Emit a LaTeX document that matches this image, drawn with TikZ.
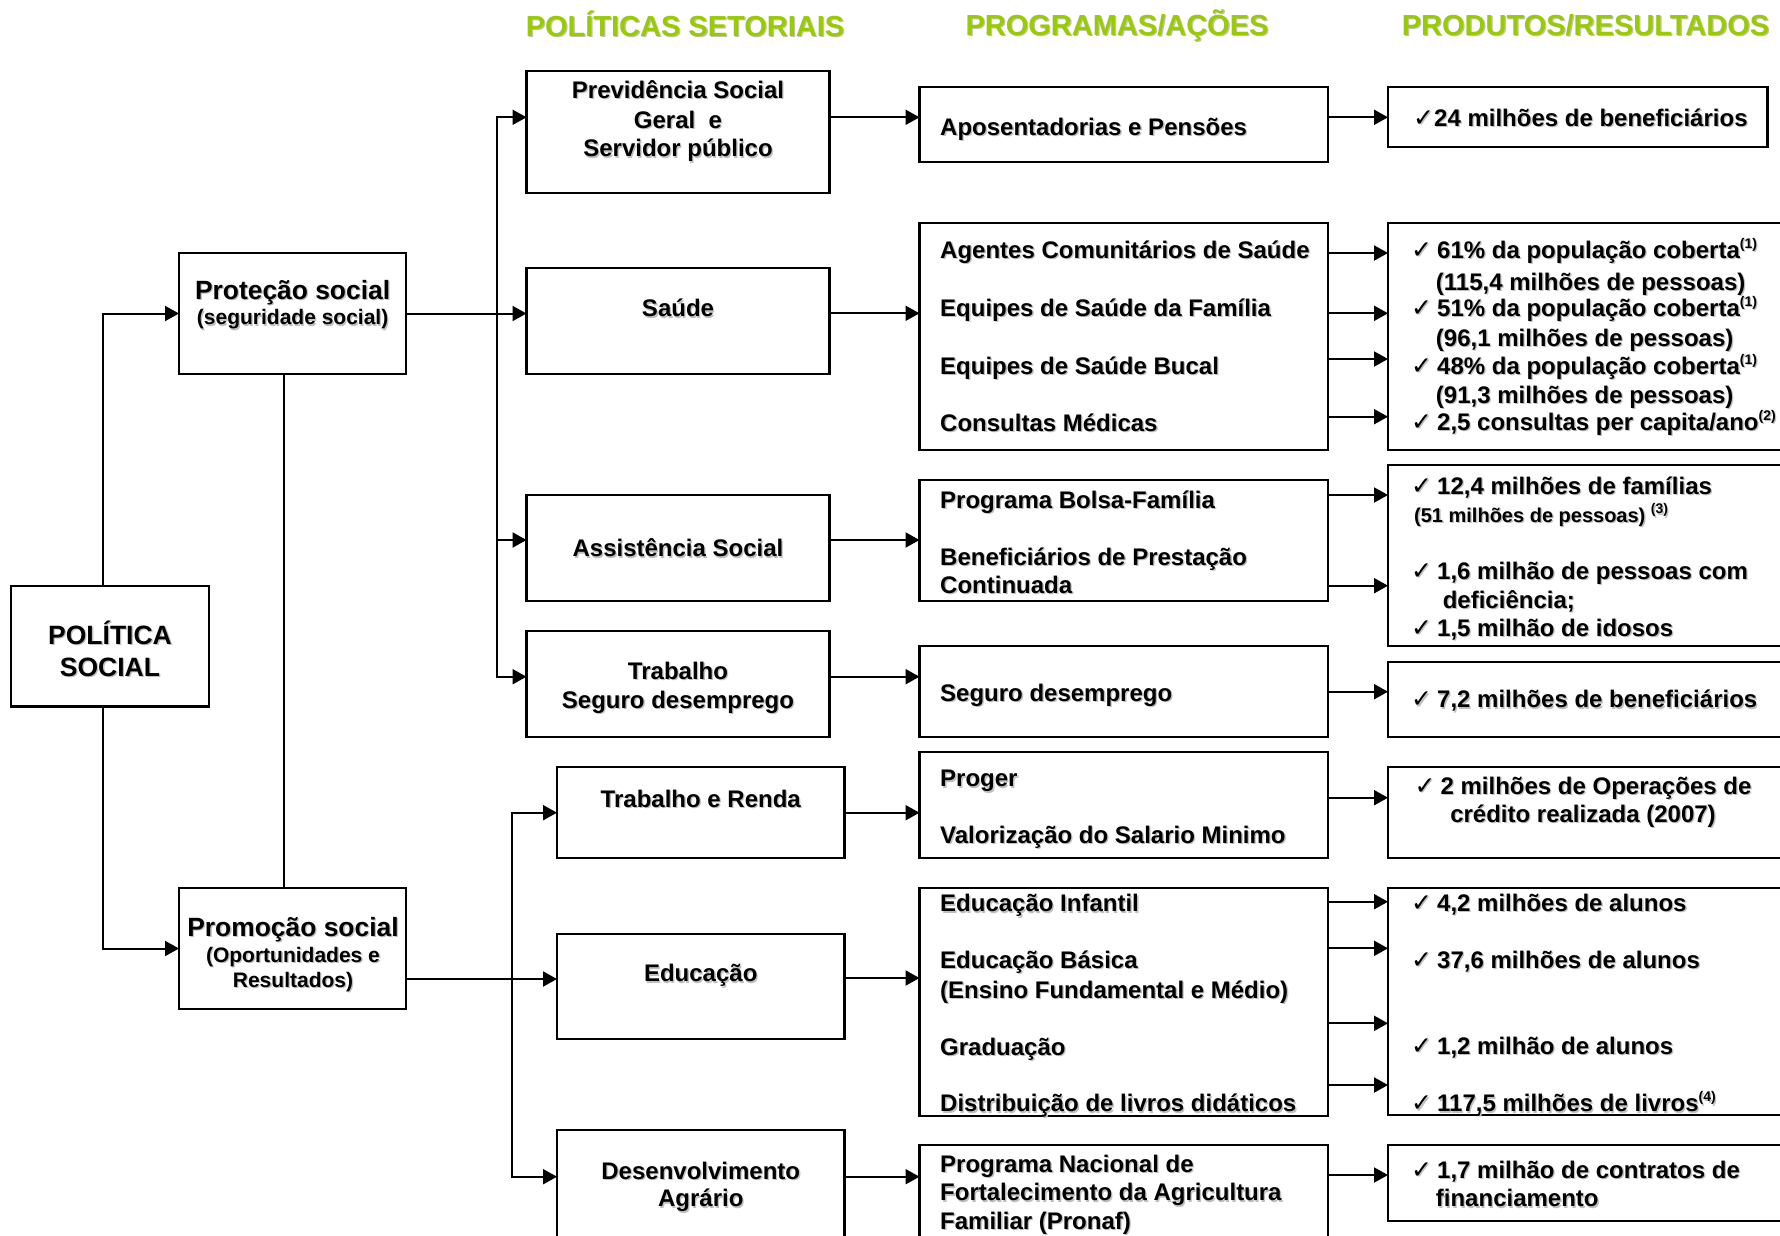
\documentclass[tikz,border=0pt]{standalone}
\usepackage{fontspec}
\setmainfont{Liberation Sans}
\newfontfamily\dv{DejaVu Sans}
\usetikzlibrary{arrows.meta}
\definecolor{lime}{RGB}{153,204,0}
\newcommand\sh[1]{\leavevmode\rlap{\hspace{1.3pt}\raisebox{-1.3pt}{\color{black!25}#1}}#1}
\newcommand\ck{{\dv\mdseries\fontsize{25}{25}\selectfont ✓}}
\newcommand\cks{\ck\hspace{5pt}}
\newcommand\su[1]{\raisebox{0.42em}{\fontsize{14}{14}\selectfont #1}}
\newcommand\bx[5]{\node[bx, minimum width={#4pt-#2pt}, minimum height={#5pt-#3pt}] (#1) at ({(#2+#4)/2},{(#3+#5)/2}) {};}
\tikzset{
  bx/.style={draw, line width=2.2pt, inner sep=0pt, outer sep=0pt},
  tx/.style={inner sep=0pt, text depth=0pt, text height={0.716*#1pt}, font={\fontsize{#1}{#1}\selectfont\bfseries}},
  tx/.default=24,
  conn/.style={line width=2pt, -{Triangle[length=14pt,width=15pt]}},
  ln/.style={line width=2pt},
  hd/.style={tx=29, text=lime}
}
\begin{document}
\begin{tikzpicture}[x=1pt,y=-1pt]
\clip (0,0) rectangle (1780,1235);
\fill[white] (0,0) rectangle (1780,1235);

% headers
\node[hd] (h1) at (685,26) {\sh{POLÍTICAS SETORIAIS}};
\node[hd] (h2) at (1117,25) {\sh{PROGRAMAS/AÇÕES}};
\node[hd] (h3) at (1585.5,25) {\sh{PRODUTOS/RESULTADOS}};

% boxes
\bx{ps}{11}{586}{209}{706.5}
\bx{prot}{179}{253}{406}{374}
\bx{prom}{179}{888}{406}{1009}
\bx{prev}{526.5}{71}{829.5}{192.7}
\bx{saude}{526.5}{267.7}{829.5}{374}
\bx{assist}{526.5}{494.7}{829.5}{601}
\bx{trab}{526.5}{631}{829.5}{737.3}
\bx{renda}{557}{767.3}{844.5}{858}
\bx{edu}{557}{933.7}{844.5}{1039.3}
\bx{desen}{557}{1129.7}{844.5}{1250}
\bx{apos}{919.5}{86.7}{1328}{162.3}
\bx{saudep}{919.5}{222.7}{1328}{450}
\bx{assistp}{919.5}{480}{1328}{601}
\bx{segp}{919.5}{646}{1328}{736.7}
\bx{proger}{919.5}{752.3}{1328}{857.7}
\bx{edup}{919.5}{888.3}{1328}{1116}
\bx{pronaf}{919.5}{1145}{1328}{1250}
\bx{r24}{1388}{86.7}{1767.5}{147.3}
\bx{rsaude}{1388}{222.7}{1800}{450}
\bx{rassist}{1388}{465}{1800}{646}
\bx{rseg}{1388}{661.7}{1800}{737.3}
\bx{rproger}{1388}{767.3}{1800}{857.7}
\bx{redu}{1388}{888.3}{1800}{1115}
\bx{rpronaf}{1388}{1145}{1800}{1220.7}

% left texts
\node[tx=26.5] (ps1) at (110,635) {\sh{POLÍTICA}};
\node[tx=26.5] (ps2) at (110,666.7) {\sh{SOCIAL}};
\node[tx=26.4] (pr1) at (292.6,290) {\sh{Proteção social}};
\node[tx=21] (pr2) at (292.6,317.3) {\sh{(seguridade social)}};
\node[tx=26.4] (pm1) at (293,926.7) {\sh{Promoção social}};
\node[tx=21] (pm2) at (293,955) {\sh{(Oportunidades e}};
\node[tx=21] (pm3) at (293,980) {\sh{Resultados)}};

% policy texts
\node[tx] (p1) at (678,90) {\sh{Previdência Social}};
\node[tx] (p2) at (678,120) {\sh{Geral\ \ e}};
\node[tx] (p3) at (678,148.3) {\sh{Servidor público}};
\node[tx] (p4) at (678,308.3) {\sh{Saúde}};
\node[tx] (p5) at (678,548.3) {\sh{Assistência Social}};
\node[tx] (p6) at (678,670.7) {\sh{Trabalho}};
\node[tx] (p7) at (678,700) {\sh{Seguro desemprego}};
\node[tx] (p8) at (700.75,799) {\sh{Trabalho e Renda}};
\node[tx] (p9) at (700.75,973.3) {\sh{Educação}};
\node[tx] (p10) at (700.75,1170.7) {\sh{Desenvolvimento}};
\node[tx] (p11) at (700.75,1198.3) {\sh{Agrário}};

% program texts
\begin{scope}[every node/.append style={anchor=west}]
\node[tx] (g1) at (940,126.7) {\sh{Aposentadorias e Pensões}};
\node[tx] (g2) at (940,250) {\sh{Agentes Comunitários de Saúde}};
\node[tx] (g3) at (940,308) {\sh{Equipes de Saúde da Família}};
\node[tx] (g4) at (940,365.7) {\sh{Equipes de Saúde Bucal}};
\node[tx] (g5) at (940,422.7) {\sh{Consultas Médicas}};
\node[tx] (g6) at (940,500) {\sh{Programa Bolsa-Família}};
\node[tx] (g7) at (940,556.7) {\sh{Beneficiários de Prestação}};
\node[tx] (g8) at (940,585) {\sh{Continuada}};
\node[tx] (g9) at (940,693) {\sh{Seguro desemprego}};
\node[tx] (g10) at (940,778.3) {\sh{Proger}};
\node[tx] (g11) at (940,835) {\sh{Valorização do Salario Minimo}};
\node[tx] (g12) at (940,903.3) {\sh{Educação Infantil}};
\node[tx] (g13) at (940,960) {\sh{Educação Básica}};
\node[tx] (g14) at (940,990) {\sh{(Ensino Fundamental e Médio)}};
\node[tx] (g15) at (940,1046.7) {\sh{Graduação}};
\node[tx] (g16) at (940,1103.3) {\sh{Distribuição de livros didáticos}};
\node[tx] (g17) at (940,1164) {\sh{Programa Nacional de}};
\node[tx] (g18) at (940,1192.3) {\sh{Fortalecimento da Agricultura}};
\node[tx] (g19) at (940,1220.7) {\sh{Familiar (Pronaf)}};

% result texts
\node[tx] (r1) at (1413,118) {\sh{\ck24 milhões de beneficiários}};
\node[tx] (r2) at (1411,250) {\sh{\cks 61\% da população coberta\su{(1)}}};
\node[tx] (r3) at (1435.7,281.7) {\sh{(115,4 milhões de pessoas)}};
\node[tx] (r4) at (1411,308) {\sh{\cks 51\% da população coberta\su{(1)}}};
\node[tx] (r5) at (1435.7,338) {\sh{(96,1 milhões de pessoas)}};
\node[tx] (r6) at (1411,365.7) {\sh{\cks 48\% da população coberta\su{(1)}}};
\node[tx] (r7) at (1435.7,395) {\sh{(91,3 milhões de pessoas)}};
\node[tx] (r8) at (1411,422) {\sh{\cks 2,5 consultas per capita/ano\su{(2)}}};
\node[tx] (r9) at (1411,485.7) {\sh{\cks 12,4 milhões de famílias}};
\node[tx=20] (r10) at (1414,515) {\sh{(51 milhões de pessoas) \su{(3)}}};
\node[tx] (r11) at (1411,571) {\sh{\cks 1,6 milhão de pessoas com}};
\node[tx] (r12) at (1442.6,600) {\sh{deficiência;}};
\node[tx] (r13) at (1411,628) {\sh{\cks 1,5 milhão de idosos}};
\node[tx] (r14) at (1411,699.3) {\sh{\cks 7,2 milhões de beneficiários}};
\node[tx] (r17) at (1411,903) {\sh{\cks 4,2 milhões de alunos}};
\node[tx] (r18) at (1411,960) {\sh{\cks 37,6 milhões de alunos}};
\node[tx] (r19) at (1411,1045.7) {\sh{\cks 1,2 milhão de alunos}};
\node[tx] (r20) at (1411,1103.3) {\sh{\cks 117,5 milhões de livros\su{(4)}}};
\node[tx] (r21) at (1411,1170) {\sh{\cks 1,7 milhão de contratos de}};
\node[tx] (r22) at (1435.7,1198.3) {\sh{financiamento}};
\end{scope}
\node[tx] (r15) at (1583,785.7) {\sh{\cks 2 milhões de Operações de}};
\node[tx] (r16) at (1583,814) {\sh{crédito realizada (2007)}};

% connectors: left part
\draw[conn] (ps.north -| 103,0) |- (prot.west);
\draw[conn] (ps.south -| 103,0) |- (prom.west);
\draw[ln] (prot.south -| 284,0) -- (prom.north -| 284,0);
\coordinate (b1) at (497,313.5);
\draw[conn] (prot.east) -- (saude.west |- prot.east);
\draw[conn] (b1) |- (prev.west |- 0,117.3);
\draw[conn] (b1) |- (trab.west |- 0,676.7);
\draw[conn] (b1 |- 0,540) -- (assist.west |- 0,540);
\coordinate (b2) at (511.5,979);
\draw[conn] (prom.east |- 0,979) -- (edu.west |- 0,979);
\draw[conn] (b2) |- (renda.west |- 0,812.7);
\draw[conn] (b2) |- (desen.west |- 0,1176.7);

% policy -> programs
\draw[conn] (prev.east |- 0,117.3) -- (apos.west |- 0,117.3);
\draw[conn] (saude.east |- 0,313.3) -- (saudep.west |- 0,313.3);
\draw[conn] (assist.east |- 0,540) -- (assistp.west |- 0,540);
\draw[conn] (trab.east |- 0,676.7) -- (segp.west |- 0,676.7);
\draw[conn] (renda.east |- 0,812.7) -- (proger.west |- 0,812.7);
\draw[conn] (edu.east |- 0,978) -- (edup.west |- 0,978);
\draw[conn] (desen.east |- 0,1176.7) -- (pronaf.west |- 0,1176.7);

% programs -> results
\draw[conn] (apos.east |- 0,117.3) -- (r24.west |- 0,117.3);
\foreach \yy in {253,313.3,359,416.7}
  \draw[conn] (saudep.east |- 0,\yy) -- (rsaude.west |- 0,\yy);
\foreach \yy in {495,585.7}
  \draw[conn] (assistp.east |- 0,\yy) -- (rassist.west |- 0,\yy);
\draw[conn] (segp.east |- 0,691.7) -- (rseg.west |- 0,691.7);
\draw[conn] (proger.east |- 0,797.7) -- (rproger.west |- 0,797.7);
\foreach \yy in {901.7,948.3,1023.3,1085}
  \draw[conn] (edup.east |- 0,\yy) -- (redu.west |- 0,\yy);
\draw[conn] (pronaf.east |- 0,1175) -- (rpronaf.west |- 0,1175);
\end{tikzpicture}
\end{document}
